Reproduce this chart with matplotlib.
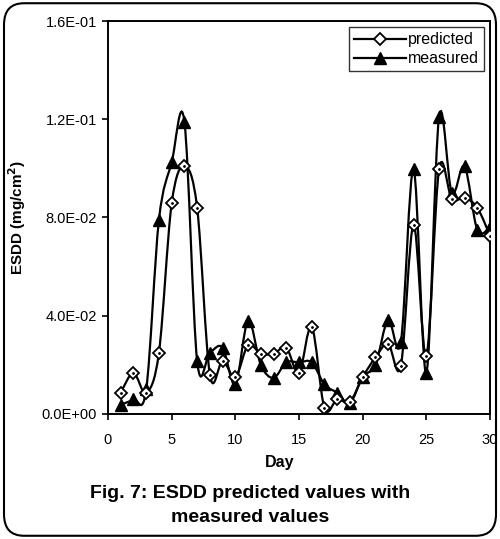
"""ESDD predicted vs measured values (Fig. 7)."""
import matplotlib
matplotlib.use('Agg')
import matplotlib.pyplot as plt
import numpy as np
from matplotlib.path import Path
from matplotlib.patches import PathPatch, FancyBboxPatch
from matplotlib.lines import Line2D

plt.rcParams['font.family'] = ['Liberation Sans', 'DejaVu Sans']

days = list(range(1, 31))
predicted = [0.0087, 0.0167, 0.0086, 0.025, 0.0857, 0.101, 0.084, 0.016, 0.0216, 0.015,
             0.028, 0.0245, 0.0245, 0.027, 0.0167, 0.0355, 0.0024, 0.006, 0.005, 0.015,
             0.023, 0.0286, 0.0196, 0.077, 0.0237, 0.0996, 0.0875, 0.088, 0.084, 0.0726]
measured = [0.0037, 0.006, 0.010, 0.079, 0.1024, 0.119, 0.0216, 0.025, 0.027, 0.012,
            0.038, 0.020, 0.0147, 0.021, 0.021, 0.021, 0.012, 0.0086, 0.0045, 0.015,
            0.020, 0.0384, 0.0294, 0.0996, 0.0167, 0.121, 0.090, 0.1008, 0.075, 0.076]
y_ticks = [0.0, 0.04, 0.08, 0.12, 0.16]
y_labels = ['0.0E+00', '4.0E-02', '8.0E-02', '1.2E-01', '1.6E-01']


def smooth_path(x, y):
    # Catmull-Rom style bezier, like Excel's smoothed lines
    x = np.asarray(x, float)
    y = np.asarray(y, float)
    verts = [(x[0], y[0])]
    codes = [Path.MOVETO]
    n = len(x)
    for i in range(n - 1):
        p0 = (x[max(i - 1, 0)], y[max(i - 1, 0)])
        p1 = (x[i], y[i])
        p2 = (x[i + 1], y[i + 1])
        p3 = (x[min(i + 2, n - 1)], y[min(i + 2, n - 1)])
        c1 = (p1[0] + (p2[0] - p0[0]) / 6, p1[1] + (p2[1] - p0[1]) / 6)
        c2 = (p2[0] - (p3[0] - p1[0]) / 6, p2[1] - (p3[1] - p1[1]) / 6)
        verts += [c1, c2, p2]
        codes += [Path.CURVE4] * 3
    return Path(verts, codes)


fig = plt.figure(figsize=(5.0, 5.39), dpi=100)
ax = fig.add_axes([0.216, 0.232, 0.764, 0.729])

for vals in (measured, predicted):
    ax.add_patch(PathPatch(smooth_path(days, vals), facecolor='none',
                           edgecolor='black', linewidth=1.6, zorder=2))
ax.plot(days, measured, linestyle='none', marker='^', markersize=8,
        color='black', zorder=3)
ax.plot(days, predicted, linestyle='none', marker='D', markersize=6,
        markerfacecolor='white', markeredgecolor='black', markeredgewidth=1.3, zorder=4)
ax.plot(days, predicted, linestyle='none', marker='.', markersize=2,
        color='black', zorder=5)

ax.set_xlim(0, 30)
ax.set_ylim(0, 0.16)
ax.set_xticks([0, 5, 10, 15, 20, 25, 30])
ax.set_yticks(y_ticks)
ax.set_yticklabels(y_labels)
ax.tick_params(direction='out', length=4, width=1.2, labelsize=10.5)
ax.tick_params(axis='x', pad=10)
ax.tick_params(axis='y', pad=4)
for s in ax.spines.values():
    s.set_linewidth(1.4)
ax.set_xlabel('Day', fontsize=11.5, fontweight='bold', labelpad=6)
ax.xaxis.set_label_coords(0.45, -0.105)
ax.set_ylabel('ESDD (mg/cm$^{\\mathbf{2}}$)', fontsize=11, fontweight='bold', labelpad=10)

handles = [Line2D([], [], color='black', lw=1.6, marker='D', markersize=6,
                  markerfacecolor='white', markeredgewidth=1.3),
           Line2D([], [], color='black', lw=1.6, marker='^', markersize=8)]
ax.legend(handles, ['predicted', 'measured'], loc='upper right', fontsize=11.5,
          frameon=True, fancybox=False, edgecolor='black', handlelength=3.3,
          handletextpad=0.1, borderpad=0.3, labelspacing=0.25,
          borderaxespad=0.4).get_frame().set_linewidth(1.0)

fig.text(0.5, 0.062, 'Fig. 7: ESDD predicted values with\nmeasured values',
         ha='center', va='center', fontsize=14, fontweight='bold', linespacing=1.6)

fig.patches.append(FancyBboxPatch((0.008, 0.006), 0.984, 0.988,
                                  boxstyle='round,pad=0,rounding_size=0.04',
                                  transform=fig.transFigure, facecolor='none',
                                  edgecolor='black', linewidth=1.5))

fig.savefig('out.png', dpi=100)
